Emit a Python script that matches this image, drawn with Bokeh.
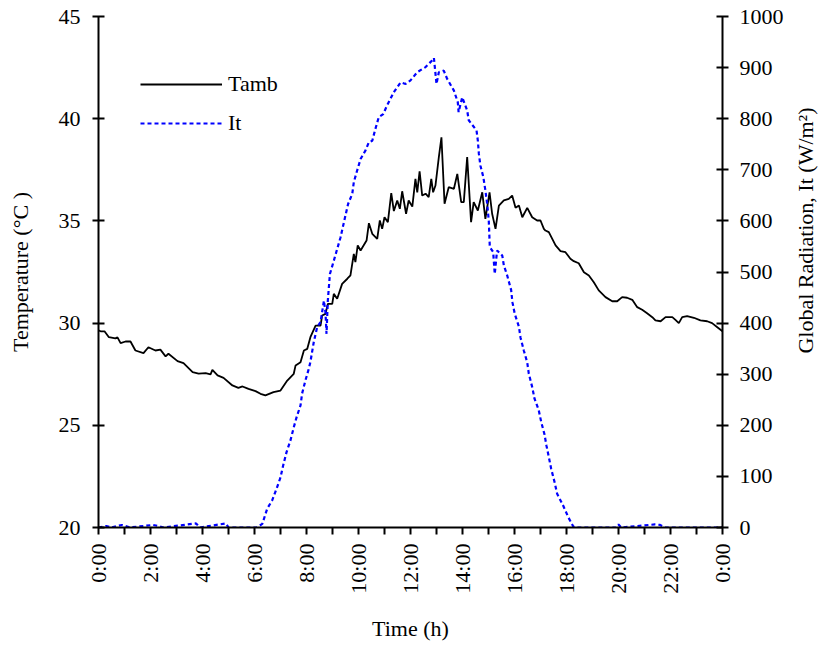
import math
from bokeh.plotting import figure
from bokeh.layouts import row
from bokeh.models import Range1d, LinearAxis, FixedTicker, Legend, LegendItem
from bokeh.core.properties import value
from bokeh.embed import file_html
from bokeh.resources import INLINE

# ---- data ----
tamb_time = [0.0, 0.08, 0.23, 0.40, 0.65, 0.73, 0.85, 1.04, 1.23, 1.42, 1.73, 1.92, 2.19, 2.38, 2.58, 2.69,
             3.04, 3.27, 3.62, 3.85, 4.12, 4.31, 4.38, 4.58, 4.81, 5.15, 5.38, 5.54, 5.77, 6.04, 6.23, 6.42,
             6.73, 7.00, 7.26, 7.51, 7.58, 7.77, 7.90, 8.03, 8.15, 8.35, 8.54, 8.60, 8.73, 8.82, 8.99, 9.05,
             9.18, 9.37, 9.57, 9.69, 9.82, 9.88, 9.97, 10.08, 10.31, 10.40, 10.53, 10.72, 10.82, 10.91, 11.00,
             11.13, 11.26, 11.36, 11.49, 11.59, 11.68, 11.83, 11.93, 12.07, 12.19, 12.26, 12.35, 12.45, 12.58,
             12.70, 12.80, 12.87, 12.96, 13.09, 13.19, 13.31, 13.47, 13.67, 13.80, 13.95, 14.05, 14.18, 14.33,
             14.43, 14.59, 14.76, 14.88, 15.04, 15.14, 15.27, 15.40, 15.59, 15.78, 15.91, 16.04, 16.17, 16.30,
             16.49, 16.68, 16.87, 17.00, 17.13, 17.19, 17.32, 17.58, 17.77, 17.96, 18.15, 18.28, 18.47, 18.67,
             18.86, 19.05, 19.24, 19.50, 19.76, 19.95, 20.14, 20.33, 20.53, 20.72, 20.91, 21.10, 21.30, 21.42,
             21.62, 21.81, 22.07, 22.19, 22.32, 22.45, 22.64, 22.90, 23.15, 23.41, 23.60, 23.80, 24.0]
tamb_value = [29.64, 29.6, 29.6, 29.31, 29.25, 29.3, 29.02, 29.1, 29.1, 28.66, 28.53, 28.82, 28.66, 28.7, 28.37, 28.5,
              28.14, 28.04, 27.6, 27.53, 27.55, 27.49, 27.71, 27.44, 27.32, 26.95, 26.83, 26.9, 26.78, 26.67, 26.54, 26.46,
              26.62, 26.7, 27.19, 27.52, 27.93, 28.09, 28.66, 28.74, 29.31, 29.88, 29.88, 30.37, 30.45, 30.94, 30.94, 31.43,
              31.19, 31.92, 32.17, 32.33, 33.39, 32.98, 33.80, 33.55, 34.04, 34.89, 34.37, 34.12, 35.02, 34.61, 35.18,
              34.94, 36.36, 35.48, 36.0, 35.59, 36.45, 35.35, 36.0, 35.70, 37.06, 36.40, 37.43, 36.24, 36.33,
              36.16, 37.06, 36.40, 36.73, 38.12, 39.09, 35.84, 36.65, 36.57, 37.30, 35.92, 35.92, 38.12, 34.94,
              35.92, 35.51, 36.40, 35.10, 36.40, 35.35, 34.61, 35.75, 36.0, 36.08, 36.24, 35.64, 35.75, 35.18,
              35.64, 35.18, 35.02, 35.02, 34.61, 34.53, 34.45, 33.80, 33.52, 33.47, 33.15, 33.03, 32.93, 32.49,
              32.33, 32.0, 31.6, 31.27, 31.07, 31.07, 31.27, 31.24, 31.14, 30.78, 30.65, 30.48, 30.29, 30.13,
              30.09, 30.29, 30.29, 30.16, 30.0, 30.29, 30.34, 30.26, 30.13, 30.09, 30.0, 29.8, 29.6]

it_time = [0.0, 0.3, 0.5, 0.9, 1.2, 2.1, 2.3, 2.5, 3.75, 3.9, 4.9, 5.0, 6.08, 6.30, 6.49, 6.68, 6.85, 7.00,
           7.10, 7.23, 7.38, 7.51, 7.62, 7.77, 7.83, 7.96, 8.09, 8.15, 8.28, 8.41, 8.54, 8.67, 8.73, 8.77,
           8.82, 8.86, 8.90, 9.05, 9.18, 9.31, 9.50, 9.60, 9.76, 9.82, 9.95, 10.08, 10.27, 10.40, 10.53,
           10.65, 10.78, 10.95, 11.10, 11.23, 11.36, 11.62, 11.81, 12.00, 12.26, 12.58, 12.83, 12.90, 13.00,
           13.09, 13.28, 13.41, 13.67, 13.82, 13.85, 13.99, 14.18, 14.24, 14.54, 14.59, 14.63, 14.69, 14.80,
           14.88, 14.95, 15.01, 15.05, 15.18, 15.24, 15.33, 15.53, 15.59, 15.72, 15.87, 15.92, 16.01, 16.17,
           16.23, 16.36, 16.49, 16.55, 16.68, 16.77, 16.93, 17.03, 17.15, 17.23, 17.32, 17.41, 17.54, 17.64,
           17.87, 18.07, 18.26, 18.4, 19.9, 20.0, 20.1, 21.4, 21.6, 21.8, 24.0]
it_value = [0, 3, 0, 5, 0, 5, 3, 0, 8, 0, 8, 0, 0, 7, 37, 53, 76, 98,
            121, 147, 170, 196, 216, 239, 262, 288, 311, 324, 363, 392, 402, 444, 421, 379,
            444, 470, 496, 522, 545, 568, 611, 633, 653, 676, 699, 721, 738, 754, 757,
            780, 803, 809, 826, 839, 852, 871, 868, 875, 891, 901, 914, 919, 868,
            891, 894, 878, 855, 832, 813, 842, 816, 797, 777, 757, 731, 708, 686,
            660, 633, 601, 549, 539, 496, 542, 532, 513, 493, 465, 441, 418, 393,
            372, 346, 323, 301, 275, 252, 230, 206, 183, 160, 138, 115, 89, 66,
            43, 20, 2, 0, 0, 6, 0, 6, 5, 0, 0]

x_major = [0, 2, 4, 6, 8, 10, 12, 14, 16, 18, 20, 22, 24]
x_minor = [1, 3, 5, 7, 9, 11, 13, 15, 17, 19, 21, 23]
x_labels = ["0:00", "2:00", "4:00", "6:00", "8:00", "10:00", "12:00", "14:00", "16:00",
            "18:00", "20:00", "22:00", "0:00"]
temp_ticks = [20, 25, 30, 35, 40, 45]
rad_ticks = [0, 100, 200, 300, 400, 500, 600, 700, 800, 900, 1000]
right_title = "Global Radiation, It (W/m²)"

FONT = "Liberation Serif"
FS = "22px"
MAIN_W = 792
TOTAL_W = 819
H = 646
FRAME_TOP = 16
FRAME_BOTTOM = 527

p = figure(width=MAIN_W, height=H, output_backend="svg", toolbar_location=None,
           x_range=Range1d(0, 24), y_range=Range1d(20, 45),
           min_border_left=98, min_border_right=MAIN_W - 722, min_border_top=FRAME_TOP,
           min_border_bottom=H - FRAME_BOTTOM)
p.outline_line_color = None
p.xgrid.grid_line_color = None
p.ygrid.grid_line_color = None
p.extra_y_ranges = {"rad": Range1d(0, 1000)}

r1 = p.line(tamb_time, tamb_value, line_color="black", line_width=1.8)
r2 = p.line(it_time, it_value, line_color="#0000FF", line_width=2.2, line_dash="4 3",
            y_range_name="rad")

# bottom axis
xa = p.xaxis[0]
xa.ticker = FixedTicker(ticks=x_major, minor_ticks=x_minor)
xa.major_label_overrides = {t: l for t, l in zip(x_major, x_labels)}
xa.major_label_orientation = math.pi / 2
xa.axis_label = "Time (h)"

# left axis
ya = p.yaxis[0]
ya.ticker = FixedTicker(ticks=temp_ticks)
ya.axis_label = "Temperature (°C )"

# right axis (ticks and numbers)
ra = LinearAxis(y_range_name="rad", ticker=FixedTicker(ticks=rad_ticks))
p.add_layout(ra, "right")

for ax in (xa, ya, ra):
    ax.axis_line_color = "black"
    ax.axis_line_width = 2
    ax.major_tick_line_color = "black"
    ax.major_tick_line_width = 2
    ax.major_label_text_font = FONT
    ax.major_label_text_font_size = FS
    ax.major_label_text_color = "black"
    ax.axis_label_text_font = FONT
    ax.axis_label_text_font_size = FS
    ax.axis_label_text_font_style = "normal"
    ax.axis_label_text_color = "black"

xa.major_tick_in = 0
xa.major_tick_out = 7
xa.minor_tick_in = 0
xa.minor_tick_out = 7
xa.minor_tick_line_color = "black"
xa.minor_tick_line_width = 2
xa.major_label_standoff = 9
xa.axis_label_standoff = 19

for ax in (ya, ra):
    ax.major_tick_in = 6
    ax.major_tick_out = 6
    ax.minor_tick_line_color = None

ya.major_label_standoff = 12
ya.axis_label_standoff = 23
ra.major_label_standoff = 11

legend = Legend(items=[LegendItem(label="Tamb", renderers=[r1]),
                       LegendItem(label="It", renderers=[r2])],
                location=(42, 391), orientation="vertical")
legend.background_fill_alpha = 0
legend.border_line_color = None
legend.padding = 0
legend.margin = 0
legend.glyph_width = 82
legend.glyph_height = 24
legend.label_height = 24
legend.spacing = 13
legend.label_standoff = 6
legend.label_text_font = FONT
legend.label_text_font_size = FS
legend.label_text_color = "black"
p.add_layout(legend, "center")

# narrow strip on the right carrying the right-hand axis title (reads bottom to top).
# Its frame is aligned with the main frame by the row layout, so its y range is
# set so that one unit is one pixel, measured up from the page bottom.
sw = TOTAL_W - MAIN_W
p2 = figure(width=sw, height=H, output_backend="svg", toolbar_location=None,
            x_range=Range1d(0, sw), y_range=Range1d(H - FRAME_BOTTOM, H - FRAME_TOP),
            x_axis_type=None, y_axis_type=None,
            min_border_left=0, min_border_right=0, min_border_top=0, min_border_bottom=0)
p2.outline_line_color = None
p2.xgrid.grid_line_color = None
p2.ygrid.grid_line_color = None
p2.text(x=[805 - MAIN_W], y=[H - 230], text=[right_title], angle=math.pi / 2,
        text_align="center", text_baseline="middle", text_font=value(FONT),
        text_font_size=value(FS), text_color="black")

layout = row(p, p2, spacing=0)
open("out.html", "w").write(file_html(layout, INLINE))
